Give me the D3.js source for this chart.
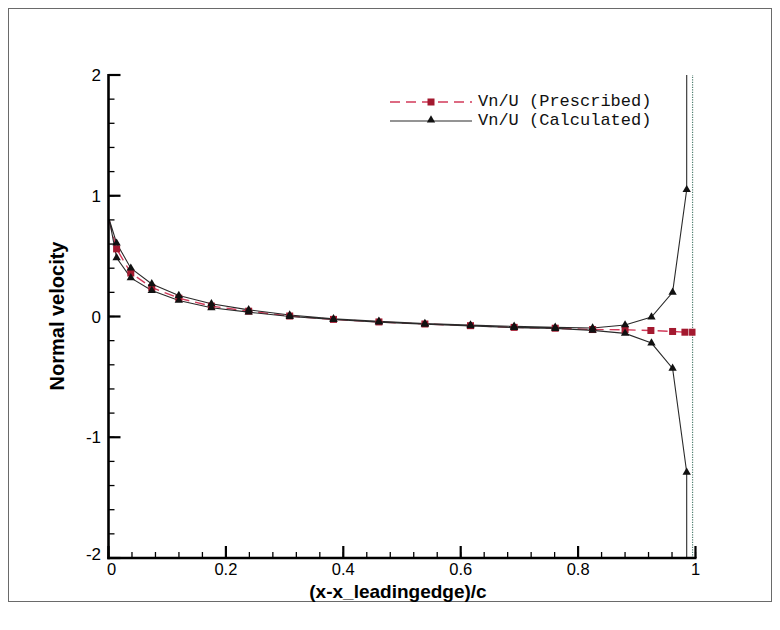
<!DOCTYPE html>
<html>
<head>
<meta charset="utf-8">
<script src="https://cdn.jsdelivr.net/npm/d3@7"></script>
<style>
  html, body { margin: 0; padding: 0; background: #fff; }
  svg { display: block; }
</style>
</head>
<body>
<svg id="chart" width="780" height="630"></svg>
<script>
// ---- data ----
const xTicks = [0, 0.2, 0.4, 0.6, 0.8, 1];
const xTickLabels = ["0", "0.2", "0.4", "0.6", "0.8", "1"];
const yTicks = [-2, -1, 0, 1, 2];
const yTickLabels = ["-2", "-1", "0", "1", "2"];

const xPrescribed = [0.0015, 0.0138, 0.038, 0.0737, 0.1198, 0.1753, 0.2388, 0.3087, 0.3833, 0.4607, 0.539, 0.6167, 0.691, 0.761, 0.8247, 0.880, 0.924, 0.961, 0.982, 0.995];
const yPrescribed = [0.79, 0.56, 0.36, 0.24, 0.152, 0.086, 0.044, 0.004, -0.024, -0.045, -0.062, -0.076, -0.09, -0.097, -0.108, -0.11, -0.116, -0.124, -0.13, -0.13];

const xCalcUpper = [0.0015, 0.0138, 0.038, 0.0737, 0.1198, 0.1753, 0.2388, 0.3087, 0.3833, 0.4607, 0.539, 0.6167, 0.691, 0.761, 0.8247, 0.880, 0.925, 0.961, 0.985, 0.986];
const yCalcUpper = [0.80, 0.607, 0.40, 0.27, 0.174, 0.105, 0.055, 0.012, -0.02, -0.04, -0.058, -0.07, -0.082, -0.09, -0.095, -0.07, -0.005, 0.20, 1.05, 30];

const xCalcLower = [0.0015, 0.0138, 0.038, 0.0737, 0.1198, 0.1753, 0.2388, 0.3087, 0.3833, 0.4607, 0.539, 0.6167, 0.691, 0.761, 0.8247, 0.880, 0.925, 0.961, 0.985, 0.986];
const yCalcLower = [0.80, 0.486, 0.32, 0.215, 0.133, 0.072, 0.036, 0.0, -0.025, -0.047, -0.064, -0.078, -0.092, -0.1, -0.115, -0.14, -0.22, -0.43, -1.29, -30];

const xDottedGuide = [0.995, 0.995];
const yDottedGuide = [-2, 2];

const legendLabels = ["Vn/U (Prescribed)", "Vn/U (Calculated)"];
const xTitle = "(x-x_leadingedge)/c";
const yTitle = "Normal velocity";

// ---- layout ----
const svg = d3.select("#chart");
const x = d3.scaleLinear().domain([0, 1]).range([108.5, 695.5]);
const y = d3.scaleLinear().domain([-2, 2]).range([558, 75]);

// outer frame
svg.append("rect").attr("x", 8.5).attr("y", 8.5).attr("width", 763).attr("height", 593)
  .attr("fill", "none").attr("stroke", "#6a6a6a").attr("stroke-width", 1);

svg.append("defs").append("clipPath").attr("id", "plotclip")
  .append("rect").attr("x", x(0)).attr("y", y(2)).attr("width", x(1) - x(0)).attr("height", y(-2) - y(2));

const plot = svg.append("g").attr("clip-path", "url(#plotclip)");

const toPts = (xs, ys) => xs.map((v, i) => [v, ys[i]]);
const line = d3.line().x(d => x(d[0])).y(d => y(d[1]));

// dotted guide
plot.append("path").datum(toPts(xDottedGuide, yDottedGuide)).attr("d", line)
  .attr("fill", "none").attr("stroke", "#4f7f70").attr("stroke-width", 1.2).attr("stroke-dasharray", "1.2,1.3");

// prescribed
const presPts = toPts(xPrescribed, yPrescribed);
plot.append("path").datum(presPts).attr("d", line)
  .attr("fill", "none").attr("stroke", "#d23a5a").attr("stroke-width", 1.4).attr("stroke-dasharray", "10,6");

// calculated (one polyline around the section)
const upper = toPts(xCalcUpper, yCalcUpper);
const lower = toPts(xCalcLower, yCalcLower);
const calcPts = upper.slice().reverse().concat(lower.slice(1));
plot.append("path").datum(calcPts).attr("d", line)
  .attr("fill", "none").attr("stroke", "#2a2a2a").attr("stroke-width", 1.1);

// markers
const sq = 7;
plot.selectAll("rect.pres").data(presPts.slice(1)).enter().append("rect")
  .attr("x", d => x(d[0]) - sq / 2).attr("y", d => y(d[1]) - sq / 2)
  .attr("width", sq).attr("height", sq).attr("fill", "#a3192f");

const tri = d3.symbol().type(d3.symbolTriangle).size(30);
const calcMarkers = upper.slice(1).concat(lower.slice(1)).filter(d => d[1] >= -2 && d[1] <= 2);
plot.selectAll("path.calc").data(calcMarkers).enter().append("path")
  .attr("d", tri).attr("transform", d => `translate(${x(d[0])},${y(d[1])})`)
  .attr("fill", "#111");

// ---- axes ----
const axisG = svg.append("g");
const xMinor = d3.range(0, 1.0001, 0.04);
const yMinor = d3.range(-2, 2.0001, 0.2);
axisG.selectAll("line.xminor").data(xMinor).enter().append("line")
  .attr("x1", d => x(d)).attr("x2", d => x(d)).attr("y1", y(-2)).attr("y2", y(-2) - 6)
  .attr("stroke", "#000").attr("stroke-width", 1.3);
axisG.selectAll("line.xmajor").data(xTicks).enter().append("line")
  .attr("x1", d => x(d)).attr("x2", d => x(d)).attr("y1", y(-2)).attr("y2", y(-2) - 12)
  .attr("stroke", "#000").attr("stroke-width", 2.2);
axisG.selectAll("line.yminor").data(yMinor).enter().append("line")
  .attr("x1", x(0)).attr("x2", x(0) + 6).attr("y1", d => y(d)).attr("y2", d => y(d))
  .attr("stroke", "#000").attr("stroke-width", 1.3);
axisG.selectAll("line.ymajor").data(yTicks).enter().append("line")
  .attr("x1", x(0)).attr("x2", x(0) + 12).attr("y1", d => y(d)).attr("y2", d => y(d))
  .attr("stroke", "#000").attr("stroke-width", 2.2);

// axis lines
axisG.append("line").attr("x1", x(0)).attr("x2", x(0)).attr("y1", y(2) - 1).attr("y2", y(-2) + 1.2)
  .attr("stroke", "#000").attr("stroke-width", 2.6);
axisG.append("line").attr("x1", x(0) - 1.2).attr("x2", x(1) + 1).attr("y1", y(-2)).attr("y2", y(-2))
  .attr("stroke", "#000").attr("stroke-width", 2.6);

// tick labels
const tickFont = "'Liberation Sans', Arial, Helvetica, sans-serif";
axisG.selectAll("text.xl").data(xTicks).enter().append("text")
  .attr("x", (d, i) => x(d) + (i === 0 ? 3 : 0)).attr("y", 575)
  .attr("text-anchor", "middle").attr("font-family", tickFont).attr("font-size", 16.5)
  .text((d, i) => xTickLabels[i]);
axisG.selectAll("text.yl").data(yTicks).enter().append("text")
  .attr("x", 101).attr("y", (d, i) => y(d) + 6 - (i === 0 ? 4 : 0))
  .attr("text-anchor", "end").attr("font-family", tickFont).attr("font-size", 17)
  .text((d, i) => yTickLabels[i]);

// titles
svg.append("text").attr("x", 398).attr("y", 598).attr("text-anchor", "middle")
  .attr("font-family", tickFont).attr("font-weight", "bold").attr("font-size", 19).text(xTitle);
svg.append("text").attr("transform", "translate(64,316) rotate(-90)").attr("text-anchor", "middle")
  .attr("font-family", tickFont).attr("font-weight", "bold").attr("font-size", 20).text(yTitle);

// legend
const lg = svg.append("g");
lg.append("line").attr("x1", 390).attr("x2", 472).attr("y1", 102).attr("y2", 102)
  .attr("stroke", "#d23a5a").attr("stroke-width", 1.4).attr("stroke-dasharray", "10,6");
lg.append("rect").attr("x", 431 - sq / 2).attr("y", 102 - sq / 2).attr("width", sq).attr("height", sq).attr("fill", "#a3192f");
lg.append("line").attr("x1", 390).attr("x2", 472).attr("y1", 121).attr("y2", 121)
  .attr("stroke", "#2a2a2a").attr("stroke-width", 1.1);
lg.append("path").attr("d", tri).attr("transform", "translate(431,120)").attr("fill", "#111");
lg.selectAll("text").data(legendLabels).enter().append("text")
  .attr("x", 478).attr("y", (d, i) => 106 + i * 19)
  .attr("font-family", "'Liberation Mono', 'Courier New', monospace").attr("font-size", 17)
  .attr("fill", "#111").text(d => d);
</script>
</body>
</html>
